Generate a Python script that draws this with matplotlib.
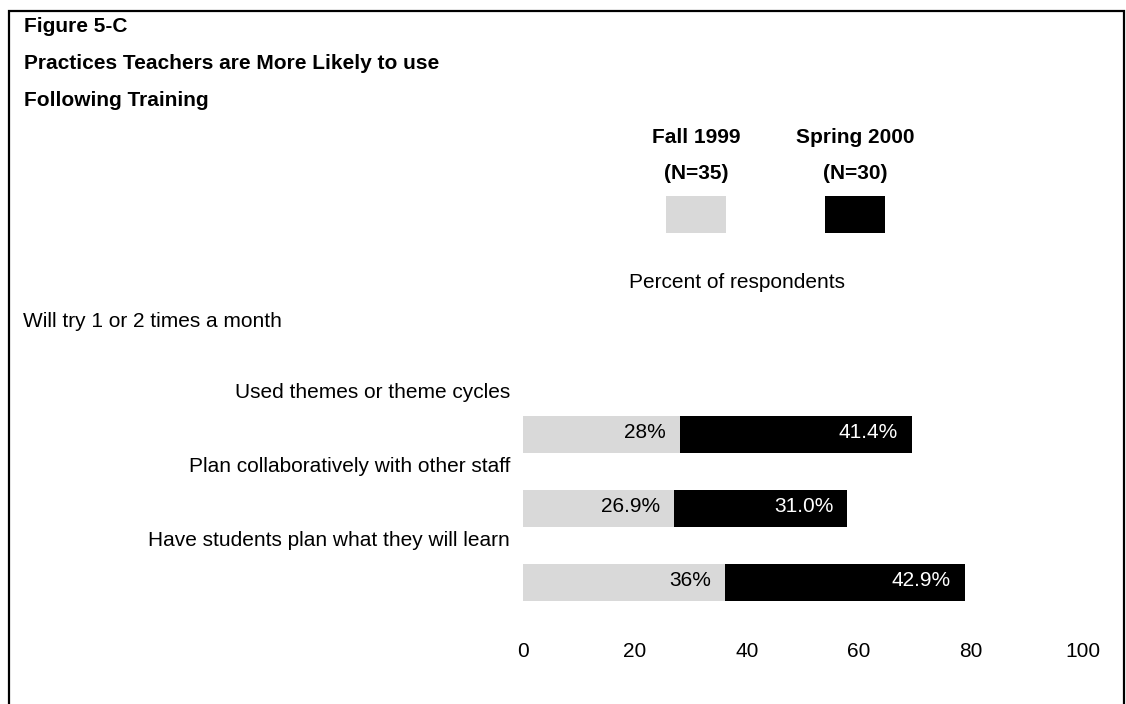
import matplotlib
matplotlib.use("Agg")
import matplotlib.pyplot as plt
from matplotlib.lines import Line2D
from matplotlib.patches import Rectangle

plt.rcParams["font.family"] = ["Liberation Sans", "DejaVu Sans"]

# --- data ---------------------------------------------------------------
categories = [
    "Used themes or theme cycles",
    "Plan collaboratively with other staff",
    "Have students plan what they will learn",
]
fall_1999 = [28, 26.9, 36]
spring_2000 = [41.4, 31.0, 42.9]
xtick_values = [0, 20, 40, 60, 80, 100]

series_names = ["Fall 1999", "Spring 2000"]
series_counts = ["(N=35)", "(N=30)"]

title_lines = [
    "Figure 5-C",
    "Practices Teachers are More Likely to use",
    "Following Training",
]
axis_title = "Percent of respondents"
group_title = "Will try 1 or 2 times a month"

LIGHT = "#d9d9d9"
DARK = "#000000"
FS = 15

# --- figure --------------------------------------------------------------
W, H = 1126, 704
fig = plt.figure(figsize=(W / 100, H / 100), dpi=100)


def fx(px):
    return px / W


def fy(py):
    return 1 - py / H


# plotting area in pixel terms
ax_left, ax_right = 523, 1083
ax_top, ax_bottom = 370, 620
ax = fig.add_axes([fx(ax_left), fy(ax_bottom),
                   fx(ax_right - ax_left), (ax_bottom - ax_top) / H])

row_px = 74.0
ypos = list(range(len(categories)))
ax.set_xlim(0, 100)
ax.set_ylim(2 + (ax_bottom - 582.5) / row_px, 0 - (434.5 - ax_top) / row_px)

bar_h = 0.5
ax.barh(ypos, fall_1999, height=bar_h, color=LIGHT, edgecolor="none")
ax.barh(ypos, spring_2000, left=fall_1999, height=bar_h, color=DARK,
        edgecolor="none")

# value labels, right-aligned inside the end of each segment
for y, f, s in zip(ypos, fall_1999, spring_2000):
    ax.annotate(f"{f:g}%", xy=(f, y), xytext=(-10, -2.5),
                textcoords="offset points", ha="right", va="baseline",
                fontsize=FS, color="black")
    ax.annotate(f"{s:.1f}%", xy=(f + s, y), xytext=(-10, -2.5),
                textcoords="offset points", ha="right", va="baseline",
                fontsize=FS, color="white")

# category labels sit above their bars, right-aligned left of the axis
for y, name in zip(ypos, categories):
    ax.text(-13 / (ax_right - ax_left), y - 0.57, name,
            transform=ax.get_yaxis_transform(), ha="right", va="center",
            fontsize=FS)

ax.set_xticks(xtick_values)
ax.set_xticklabels([str(v) for v in xtick_values])
ax.tick_params(axis="x", length=0, pad=15.5, labelsize=FS)
ax.set_yticks([])
for sp in ax.spines.values():
    sp.set_visible(False)
ax.patch.set_alpha(0)

# --- titles and annotations ---------------------------------------------
for text, base in zip(title_lines, [31.5, 69, 105.5]):
    fig.text(fx(24), fy(base), text, ha="left", va="baseline",
             fontsize=FS, fontweight="bold")

fig.text(fx(737), fy(288), axis_title, ha="center", va="baseline",
         fontsize=FS)
fig.text(fx(23), fy(327), group_title, ha="left", va="baseline",
         fontsize=FS)

# --- legend: names over counts over a colour swatch ----------------------
legend_centers = [696, 855]
for cx, name, count, col in zip(legend_centers, series_names,
                                series_counts, [LIGHT, DARK]):
    fig.text(fx(cx), fy(143), name, ha="center", va="baseline",
             fontsize=FS, fontweight="bold")
    fig.text(fx(cx), fy(179), count, ha="center", va="baseline",
             fontsize=FS, fontweight="bold")
    fig.add_artist(Rectangle((fx(cx - 30), fy(233)), fx(60), 37 / H,
                             transform=fig.transFigure, facecolor=col,
                             edgecolor="none"))

# --- frame open at the bottom -------------------------------------------
fig.add_artist(Line2D([fx(9), fx(9), fx(1124), fx(1124)],
                      [-0.05, fy(10.5), fy(10.5), -0.05],
                      transform=fig.transFigure, color="black",
                      linewidth=1.6, solid_joinstyle="miter"))

fig.savefig("out.png", dpi=100, facecolor="white")
